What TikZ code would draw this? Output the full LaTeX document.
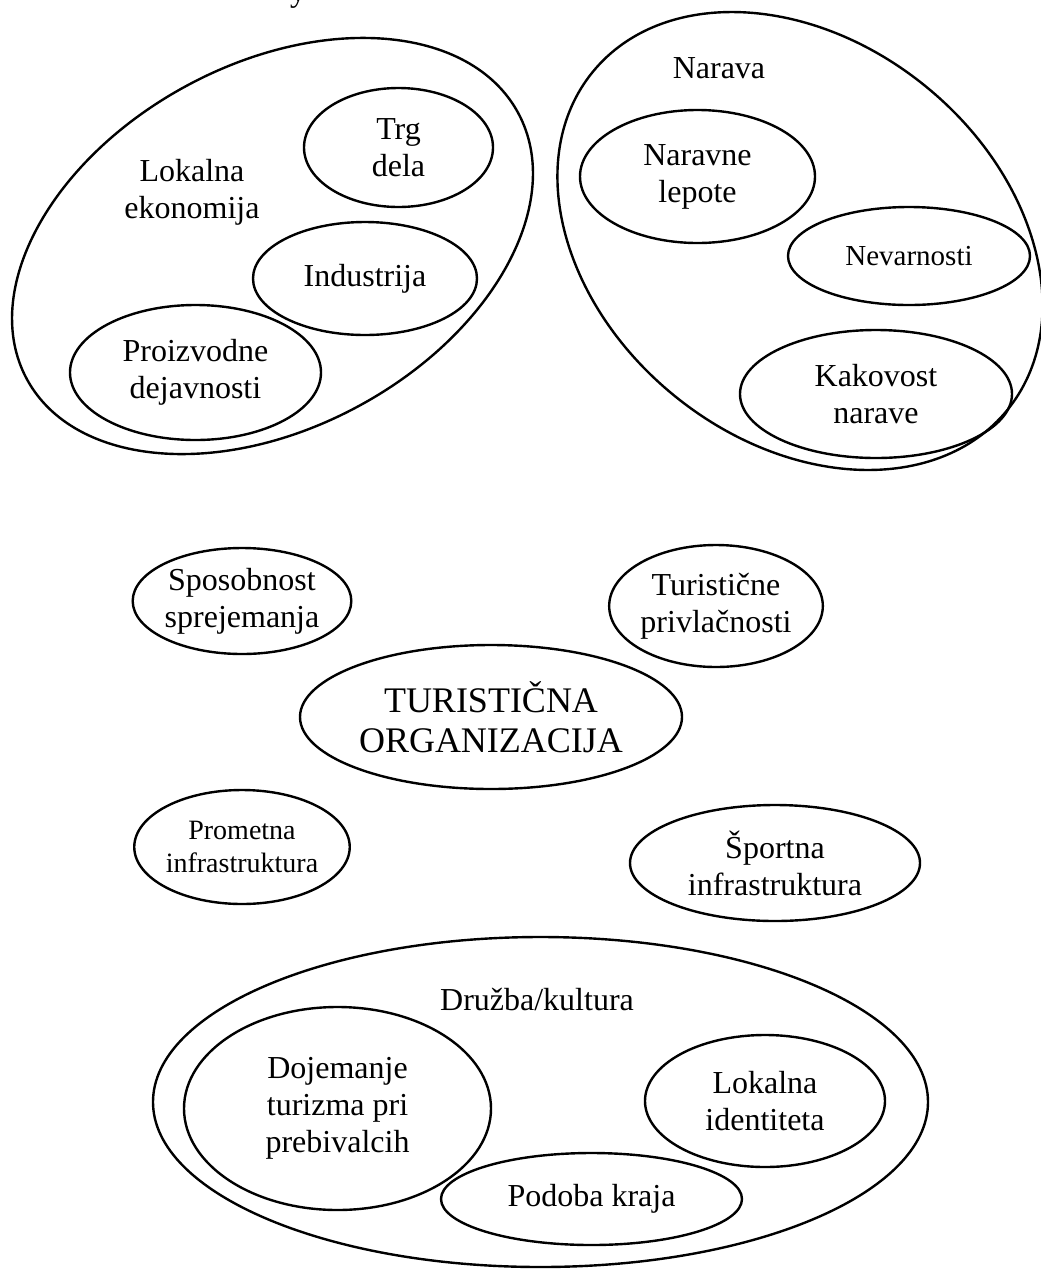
\documentclass[tikz,border=0pt]{standalone}
\usepackage{fontspec}
\setmainfont{Liberation Serif}
\usetikzlibrary{shapes.geometric}
\begin{document}
\begin{tikzpicture}[x=1pt,y=-1pt,
  ell/.style={ellipse, draw, line width=2.4pt, inner sep=0pt, align=center, font=\fontsize{32}{37}\selectfont},
  lbl/.style={align=center, inner sep=0pt, font=\fontsize{32}{37}\selectfont}]
\useasboundingbox[fill=white] (0,0) rectangle (1041,1270);
% cut-off text at the top edge
\node[lbl, anchor=base] (frag) at (298,1) {y};
% Lokalna ekonomija
\node[ell, minimum width=558.8pt, minimum height=363.6pt, rotate=28.5] (lok) at (272.5,246) {};
\node[lbl] (lokt) at (192,192) {Lokalna\\ekonomija};
\node[ell, minimum width=189pt, minimum height=119pt] (trg) at (398.5,147.5) {Trg\\dela};
\node[ell, minimum width=224pt, minimum height=113pt] (ind) at (365,278.5) {Industrija};
\node[ell, minimum width=251pt, minimum height=135pt] (pro) at (195.5,372.5) {Proizvodne\\dejavnosti};
% Narava
\node[ell, minimum width=535pt, minimum height=398.6pt, rotate=-39.2] (nar) at (800,241) {};
\node[lbl] (nart) at (719,68) {Narava};
\node[ell, minimum width=235pt, minimum height=133pt] (nl) at (697.5,176.5) {Naravne\\lepote};
\node[ell, minimum width=242pt, minimum height=98pt, font=\fontsize{29}{34}\selectfont] (nev) at (909,256) {Nevarnosti};
\node[ell, minimum width=272pt, minimum height=128pt] (kak) at (876,394) {Kakovost\\narave};
% middle
\node[ell, minimum width=210pt, minimum height=106pt] (spo) at (242,601) {Sposobnost\\sprejemanja};
\node[ell, minimum width=188pt, minimum height=122pt] (tur) at (716,606) {Turistične\\privlačnosti};
\node[ell, minimum width=382pt, minimum height=144pt, font=\fontsize{36}{40}\selectfont] (to) at (491,717) {TURISTIČNA\\ORGANIZACIJA};
\node[ell, minimum width=210pt, minimum height=114pt, font=\fontsize{28}{33}\selectfont] (pi) at (242,847) {Prometna\\infrastruktura};
\node[ell, minimum width=290pt, minimum height=116pt] (si) at (775,863) {Športna\\infrastruktura};
% Druzba/kultura
\node[ell, minimum width=775pt, minimum height=330pt] (dru) at (540.5,1102) {};
\node[lbl] (drut) at (537,1000) {Družba/kultura};
\node[ell, minimum width=307pt, minimum height=203pt] (doj) at (337.5,1108.5) {Dojemanje\\turizma pri\\prebivalcih};
\node[ell, minimum width=240pt, minimum height=132pt] (li) at (765,1101) {Lokalna\\identiteta};
\node[ell, minimum width=301pt, minimum height=92pt] (pk) at (591.5,1199) {Podoba kraja};
\end{tikzpicture}
\end{document}
